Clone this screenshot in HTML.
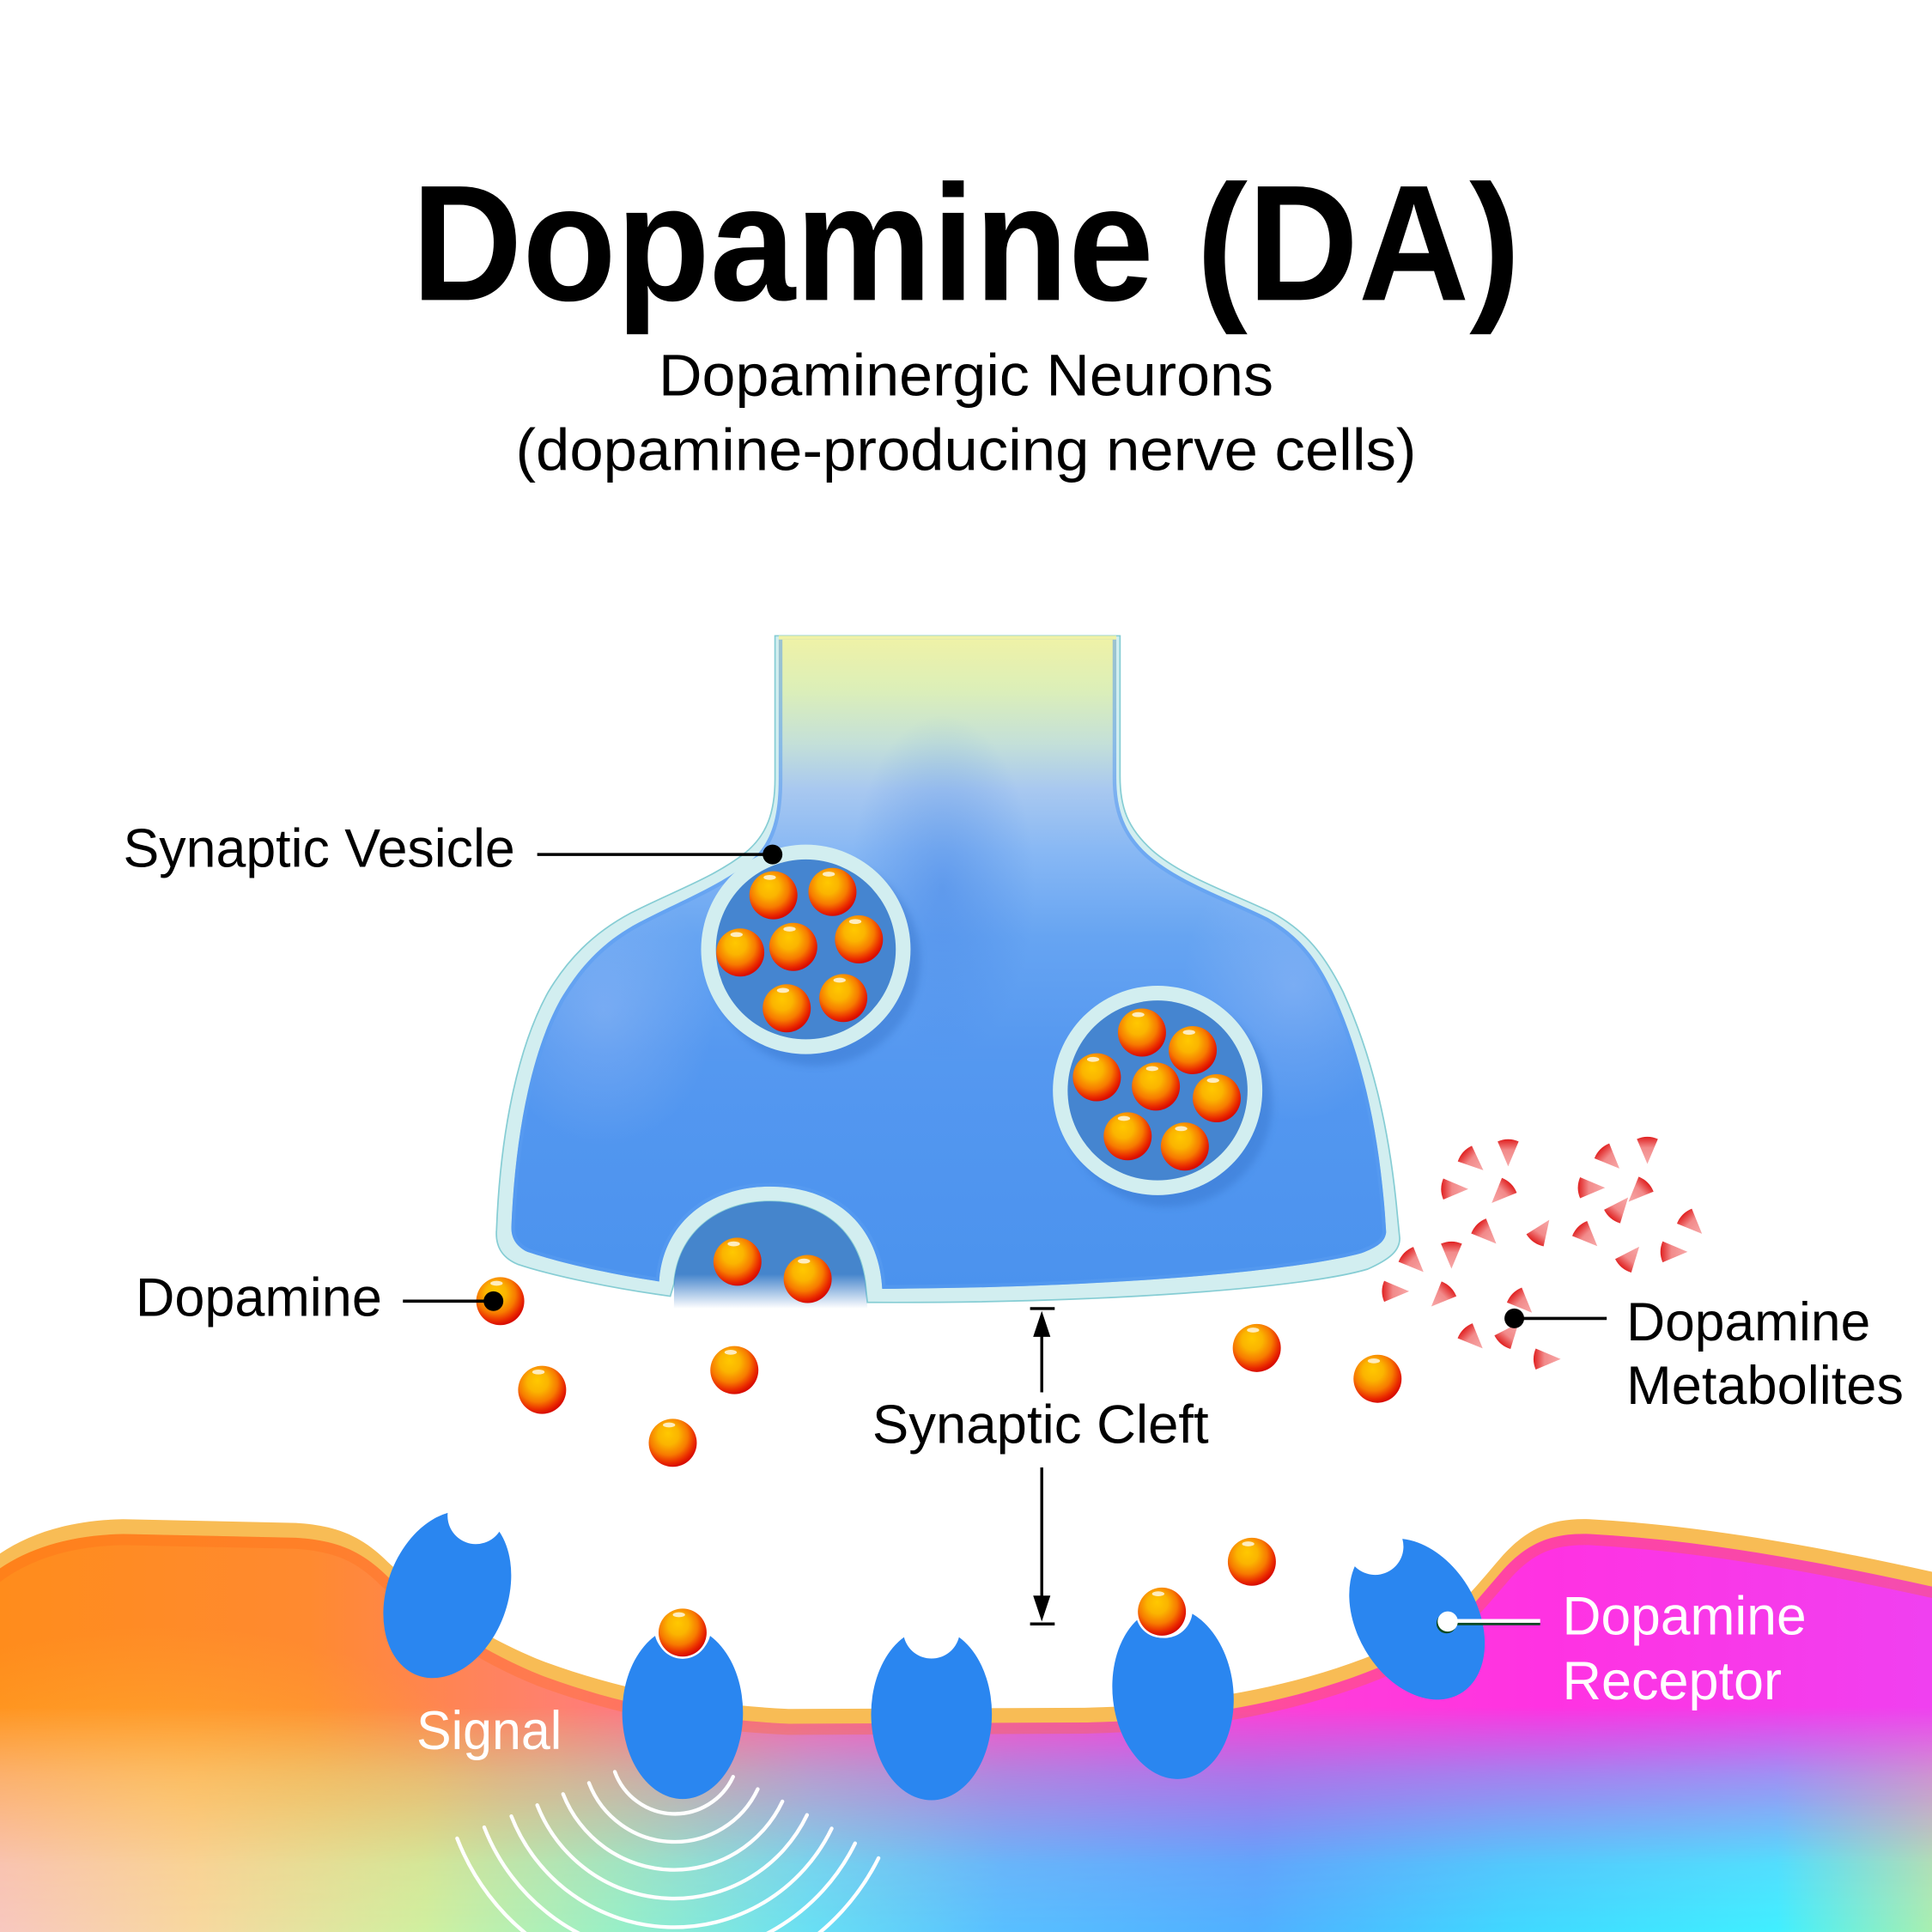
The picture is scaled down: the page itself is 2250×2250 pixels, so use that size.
<!DOCTYPE html>
<html>
<head>
<meta charset="utf-8">
<style>
  html,body{margin:0;padding:0;background:#fff;}
  body{width:2250px;height:2250px;overflow:hidden;}
  svg{display:block;}
  text{font-family:"Liberation Sans", Arial, Helvetica, sans-serif;}
</style>
</head>
<body>
<svg width="2250" height="2250" viewBox="0 0 1568 1568" xmlns="http://www.w3.org/2000/svg">
  <defs>
    <radialGradient id="bg" cx=".42" cy=".38" r=".62" fx=".4" fy=".3">
      <stop offset="0" stop-color="#ffc800"/>
      <stop offset=".35" stop-color="#fbb400"/>
      <stop offset=".65" stop-color="#f77a00"/>
      <stop offset=".88" stop-color="#ea2a00"/>
      <stop offset="1" stop-color="#d80c00"/>
    </radialGradient>
    <g id="ball">
      <circle r="19.5" fill="url(#bg)"/>
      <ellipse cx="-3" cy="-14.5" rx="5" ry="2" fill="#fff" opacity=".75"/>
    </g>
    <linearGradient id="wg" gradientUnits="userSpaceOnUse" x1="-12" y1="0" x2="6" y2="0">
      <stop offset="0" stop-color="#f7a8a8"/>
      <stop offset=".6" stop-color="#f28a8a"/>
      <stop offset="1" stop-color="#e02020"/>
    </linearGradient>
    <path id="wedge0" d="M-12,0 L4.6,-7 A18,18 0 0 1 4.6,7 Z" fill="url(#wg)"/>
    <g id="wedge"><use href="#wedge0" transform="scale(1.22)"/></g>
    <path id="rec" d="M-22.3,-62.3 A49,70 0 1 0 22.3,-62.3 A23,23 0 0 1 -22.3,-62.3 Z" fill="#2a86f0"/>

    <linearGradient id="preg" gradientUnits="userSpaceOnUse" x1="0" y1="516" x2="0" y2="1060">
      <stop offset="0" stop-color="#f0f2a6"/>
      <stop offset=".08" stop-color="#dcefb8"/>
      <stop offset=".16" stop-color="#c4e0d8"/>
      <stop offset=".23" stop-color="#a8c8f0"/>
      <stop offset=".32" stop-color="#88b8f4"/>
      <stop offset=".45" stop-color="#66a4f2"/>
      <stop offset=".62" stop-color="#5598f0"/>
      <stop offset="1" stop-color="#4a92ee"/>
    </linearGradient>
    <radialGradient id="centcol" cx=".5" cy=".5" r=".5">
      <stop offset="0" stop-color="#3f80e4" stop-opacity=".45"/>
      <stop offset="1" stop-color="#3f80e4" stop-opacity="0"/>
    </radialGradient>
    <radialGradient id="shoulder" cx=".5" cy=".5" r=".5">
      <stop offset="0" stop-color="#b8cdf8" stop-opacity=".3"/>
      <stop offset="1" stop-color="#b8cdf8" stop-opacity="0"/>
    </radialGradient>
    <linearGradient id="domeg" gradientUnits="userSpaceOnUse" x1="0" y1="975" x2="0" y2="1062">
      <stop offset="0" stop-color="#4585cc"/>
      <stop offset=".68" stop-color="#4585cc"/>
      <stop offset="1" stop-color="#4585cc" stop-opacity="0"/>
    </linearGradient>
    <filter id="blur3" x="-20%" y="-20%" width="140%" height="140%">
      <feGaussianBlur stdDeviation="3"/>
    </filter>

    <path id="preOuter" d="M629,516 L909,516 L909,630 C909,655 915,672 935,690 C960,712 1000,725 1033,741 C1060,756 1075,775 1090,805 C1115,860 1128,920 1134,985 L1136,1005 C1136,1015 1128,1022 1110,1030 C1060,1045 900,1058 704,1057 L703,1048 C700,1000 668,975 625,975 C583,975 550,1000 547,1042 L544,1052 C500,1046 450,1036 420,1026 C406,1020 402,1010 403,998 C406,920 420,850 445,805 C460,780 480,758 512,741 C545,724 580,712 605,692 C622,678 629,660 629,632 Z"/>
    <path id="preInner" d="M632,516 L906,516 L906,631 C906,658 913,676 931,693 C957,716 997,729 1029,745 C1055,760 1069,778 1083,808 C1107,862 1119,921 1124,985 L1125,1000 C1124,1008 1118,1012 1105,1017 C1050,1032 900,1045 716,1046 C713,992 675,963 625,963 C576,963 538,992 535,1040 C495,1034 455,1025 428,1016 C418,1011 415,1004 415,996 C418,922 431,854 455,811 C470,786 488,765 518,749 C550,732 585,719 610,698 C626,684 632,664 632,632 Z"/>
    <clipPath id="preclip"><use href="#preInner"/></clipPath>
    <clipPath id="belowtop"><rect x="0" y="519" width="1568" height="1049"/></clipPath>

    <path id="post" d="M-30,1290 C-5,1255 40,1234 100,1233 L240,1236 C275,1238 295,1248 315,1268 C350,1300 390,1328 440,1348 C500,1370 560,1383 640,1387 L880,1386 C980,1384 1080,1365 1160,1322 C1185,1305 1200,1285 1220,1262 C1240,1240 1260,1232 1290,1233 C1380,1238 1480,1255 1600,1283 L1600,1600 L-30,1600 Z"/>
    <clipPath id="postclip"><use href="#post" transform="translate(0,12)"/></clipPath>
    <linearGradient id="postbase" gradientUnits="userSpaceOnUse" x1="0" y1="0" x2="1568" y2="0">
      <stop offset="0" stop-color="#ff8c1c"/>
      <stop offset=".16" stop-color="#ff8a30"/>
      <stop offset=".29" stop-color="#ff8070"/>
      <stop offset=".42" stop-color="#ff62b0"/>
      <stop offset=".58" stop-color="#ff46d2"/>
      <stop offset=".8" stop-color="#ff32e2"/>
      <stop offset="1" stop-color="#f040f0"/>
    </linearGradient>
    <linearGradient id="postbot" gradientUnits="userSpaceOnUse" x1="0" y1="0" x2="1568" y2="0">
      <stop offset="0" stop-color="#f8c8c0"/>
      <stop offset=".1" stop-color="#f8d8a0"/>
      <stop offset=".22" stop-color="#d0f0a0"/>
      <stop offset=".32" stop-color="#98f0c8"/>
      <stop offset=".42" stop-color="#68e0f4"/>
      <stop offset=".52" stop-color="#58c0ff"/>
      <stop offset=".65" stop-color="#50b0ff"/>
      <stop offset=".78" stop-color="#40d8ff"/>
      <stop offset=".92" stop-color="#40f0ff"/>
      <stop offset="1" stop-color="#a8f0b0"/>
    </linearGradient>
    <linearGradient id="vfade" gradientUnits="userSpaceOnUse" x1="0" y1="1385" x2="0" y2="1568">
      <stop offset="0" stop-color="#000"/>
      <stop offset=".3" stop-color="#777"/>
      <stop offset=".7" stop-color="#e6e6e6"/>
      <stop offset="1" stop-color="#fff"/>
    </linearGradient>
    <mask id="botmask" maskUnits="userSpaceOnUse" x="0" y="0" width="1568" height="1568">
      <rect x="0" y="0" width="1568" height="1568" fill="url(#vfade)"/>
    </mask>
    <radialGradient id="yel" cx=".5" cy=".5" r=".5">
      <stop offset="0" stop-color="#ffbe30" stop-opacity=".6"/>
      <stop offset="1" stop-color="#ffbe30" stop-opacity="0"/>
    </radialGradient>
  </defs>

  <rect x="0" y="0" width="1568" height="1568" fill="#fff"/>

  <!-- Titles -->
  <text x="784" y="243.5" font-size="134" font-weight="bold" text-anchor="middle" textLength="900" lengthAdjust="spacingAndGlyphs" fill="#000">Dopamine (DA)</text>
  <text x="784" y="321" font-size="48" text-anchor="middle" textLength="499" lengthAdjust="spacingAndGlyphs" fill="#000">Dopaminergic Neurons</text>
  <text x="784" y="381.5" font-size="48" text-anchor="middle" textLength="731" lengthAdjust="spacingAndGlyphs" fill="#000">(dopamine-producing nerve cells)</text>

  <!-- Postsynaptic cell -->
  <use href="#post" fill="#f8bc55"/>
  <g clip-path="url(#postclip)">
    <rect x="0" y="1200" width="1568" height="368" fill="url(#postbase)"/>
    <ellipse cx="130" cy="1460" rx="280" ry="140" fill="url(#yel)"/>
    <rect x="0" y="1200" width="1568" height="368" fill="url(#postbot)" mask="url(#botmask)"/>
    <use href="#post" transform="translate(0,12)" fill="none" stroke="#ff6a18" stroke-width="18" opacity=".3"/>
  </g>

  <!-- Signal waves -->
  <g fill="none" stroke="#fff" stroke-width="3" stroke-linecap="round">
    <path d="M595,1442 A52,52 0 0 1 499,1438"/>
    <path d="M615,1452 A74.5,74.5 0 0 1 478,1447"/>
    <path d="M635,1462 A97,97 0 0 1 457,1456"/>
    <path d="M655,1473 A119.5,119.5 0 0 1 436,1465"/>
    <path d="M675,1484 A142,142 0 0 1 415,1474"/>
    <path d="M694,1496 A164.5,164.5 0 0 1 393,1483"/>
    <path d="M713,1508 A187,187 0 0 1 371,1492"/>
  </g>
  <text x="338" y="1419.5" font-size="44" textLength="118" lengthAdjust="spacingAndGlyphs" fill="#fff">Signal</text>

  <!-- Receptors -->
  <use href="#rec" transform="translate(363,1294) rotate(20)"/>
  <use href="#rec" transform="translate(554,1390)"/>
  <use href="#rec" transform="translate(756,1391)"/>
  <use href="#rec" transform="translate(952,1374) rotate(-6)"/>
  <use href="#rec" transform="translate(1150,1314) rotate(-30)"/>

  <circle cx="554" cy="1325" r="21.3" fill="#fff"/>
  <use href="#ball" x="554" y="1325"/>
  <circle cx="943" cy="1308" r="21.3" fill="#fff"/>
  <use href="#ball" x="943" y="1308"/>

  <!-- Receptor label -->
  <line x1="1180" y1="1318" x2="1250" y2="1318" stroke="#0d4a22" stroke-width="2"/>
  <line x1="1180" y1="1315.5" x2="1250" y2="1315.5" stroke="#fff" stroke-width="3"/>
  <circle cx="1174" cy="1317.5" r="8.2" fill="#0d4a22"/>
  <circle cx="1175" cy="1316" r="8.2" fill="#fff"/>
  <text x="1268" y="1326.5" font-size="44" textLength="198" lengthAdjust="spacingAndGlyphs" fill="#fff">Dopamine</text>
  <text x="1268" y="1379" font-size="44" textLength="178" lengthAdjust="spacingAndGlyphs" fill="#fff">Receptor</text>

  <!-- Presynaptic neuron -->
  <use href="#preOuter" fill="#d2eef0" stroke="#86cdd4" stroke-width="1.2"/>
  <use href="#preInner" fill="url(#preg)"/>
  <g clip-path="url(#preclip)">
    <ellipse cx="765" cy="720" rx="75" ry="140" fill="url(#centcol)"/>
    <ellipse cx="490" cy="820" rx="90" ry="110" fill="url(#shoulder)"/>
    <ellipse cx="1050" cy="800" rx="90" ry="110" fill="url(#shoulder)"/>
    <g clip-path="url(#belowtop)">
      <use href="#preInner" fill="none" stroke="#5a9cf0" stroke-width="6" opacity=".55"/>
    </g>
  </g>
  <path d="M547,1062 L547,1042 C550,1000 583,975 625,975 C668,975 700,1000 703,1048 L704,1062 Z" fill="url(#domeg)"/>
  <use href="#ball" x="598.5" y="1024"/>
  <use href="#ball" x="655.5" y="1038"/>

  <!-- Vesicle 1 -->
  <circle cx="662" cy="780" r="85" fill="#2f6ac0" opacity=".35" filter="url(#blur3)"/>
  <circle cx="654" cy="770.5" r="85" fill="#d2eef0"/>
  <circle cx="654" cy="770.5" r="73" fill="#4585d0"/>
  <use href="#ball" x="627.7" y="726.6"/>
  <use href="#ball" x="675.6" y="723.9"/>
  <use href="#ball" x="600.8" y="773"/>
  <use href="#ball" x="643.8" y="768.5"/>
  <use href="#ball" x="697.1" y="762.4"/>
  <use href="#ball" x="638.5" y="818.3"/>
  <use href="#ball" x="684.4" y="810"/>

  <!-- Vesicle 2 -->
  <circle cx="947.5" cy="894.5" r="85" fill="#2f6ac0" opacity=".35" filter="url(#blur3)"/>
  <circle cx="939.5" cy="885" r="85" fill="#d2eef0"/>
  <circle cx="939.5" cy="885" r="73" fill="#4585d0"/>
  <use href="#ball" x="926.8" y="838"/>
  <use href="#ball" x="968" y="852.3"/>
  <use href="#ball" x="890.2" y="874.3"/>
  <use href="#ball" x="938.1" y="881.8"/>
  <use href="#ball" x="987.5" y="891.3"/>
  <use href="#ball" x="915.2" y="922.2"/>
  <use href="#ball" x="961.6" y="930.5"/>

  <!-- Free dopamine -->
  <use href="#ball" x="406" y="1056"/>
  <use href="#ball" x="440" y="1128"/>
  <use href="#ball" x="596" y="1112"/>
  <use href="#ball" x="546" y="1171"/>
  <use href="#ball" x="1020" y="1094"/>
  <use href="#ball" x="1118" y="1119"/>
  <use href="#ball" x="1016" y="1267.5"/>

  <!-- Metabolites -->
  <use href="#wedge" transform="translate(1193,940) rotate(222)"/>
  <use href="#wedge" transform="translate(1224,932) rotate(270)"/>
  <use href="#wedge" transform="translate(1177,965) rotate(180)"/>
  <use href="#wedge" transform="translate(1221,966) rotate(315)"/>
  <use href="#wedge" transform="translate(1204,999) rotate(225)"/>
  <use href="#wedge" transform="translate(1249,1002) rotate(125)"/>
  <use href="#wedge" transform="translate(1178,1015) rotate(270)"/>
  <use href="#wedge" transform="translate(1145,1022) rotate(225)"/>
  <use href="#wedge" transform="translate(1129,1048) rotate(180)"/>
  <use href="#wedge" transform="translate(1172,1050) rotate(315)"/>
  <use href="#wedge" transform="translate(1233,1055) rotate(225)"/>
  <use href="#wedge" transform="translate(1193,1084) rotate(225)"/>
  <use href="#wedge" transform="translate(1223,1085) rotate(130)"/>
  <use href="#wedge" transform="translate(1252,1103) rotate(180)"/>
  <use href="#wedge" transform="translate(1304,938) rotate(225)"/>
  <use href="#wedge" transform="translate(1337,930) rotate(270)"/>
  <use href="#wedge" transform="translate(1288,964) rotate(180)"/>
  <use href="#wedge" transform="translate(1332,965) rotate(315)"/>
  <use href="#wedge" transform="translate(1312,983) rotate(130)"/>
  <use href="#wedge" transform="translate(1286,1001) rotate(225)"/>
  <use href="#wedge" transform="translate(1371,991) rotate(225)"/>
  <use href="#wedge" transform="translate(1355,1016) rotate(180)"/>
  <use href="#wedge" transform="translate(1321,1023) rotate(130)"/>

  <!-- Labels -->
  <text x="100" y="703.5" font-size="44" textLength="318" lengthAdjust="spacingAndGlyphs" fill="#000">Synaptic Vesicle</text>
  <line x1="436" y1="693.5" x2="627" y2="693.5" stroke="#000" stroke-width="2.5"/>
  <circle cx="627" cy="693.5" r="8" fill="#000"/>

  <text x="110" y="1068" font-size="44" textLength="200" lengthAdjust="spacingAndGlyphs" fill="#000">Dopamine</text>
  <line x1="327" y1="1056" x2="400" y2="1056" stroke="#000" stroke-width="2.5"/>
  <circle cx="400.5" cy="1056" r="8" fill="#000"/>

  <text x="708" y="1171" font-size="44" textLength="273" lengthAdjust="spacingAndGlyphs" fill="#000">Synaptic Cleft</text>
  <g stroke="#000" stroke-width="2.4">
    <line x1="836" y1="1062" x2="856" y2="1062"/>
    <line x1="845.5" y1="1080" x2="845.5" y2="1130"/>
    <line x1="845.5" y1="1191" x2="845.5" y2="1300"/>
    <line x1="836" y1="1318" x2="856" y2="1318"/>
  </g>
  <polygon points="845.5,1064 838.5,1085 852.5,1085" fill="#000"/>
  <polygon points="845.5,1316 838.5,1295 852.5,1295" fill="#000"/>

  <circle cx="1229" cy="1070" r="8" fill="#000"/>
  <line x1="1229" y1="1070" x2="1304" y2="1070" stroke="#000" stroke-width="2.5"/>
  <text x="1320" y="1088" font-size="44" textLength="198" lengthAdjust="spacingAndGlyphs" fill="#000">Dopamine</text>
  <text x="1320" y="1139.5" font-size="44" textLength="225" lengthAdjust="spacingAndGlyphs" fill="#000">Metabolites</text>
</svg>
</body>
</html>
